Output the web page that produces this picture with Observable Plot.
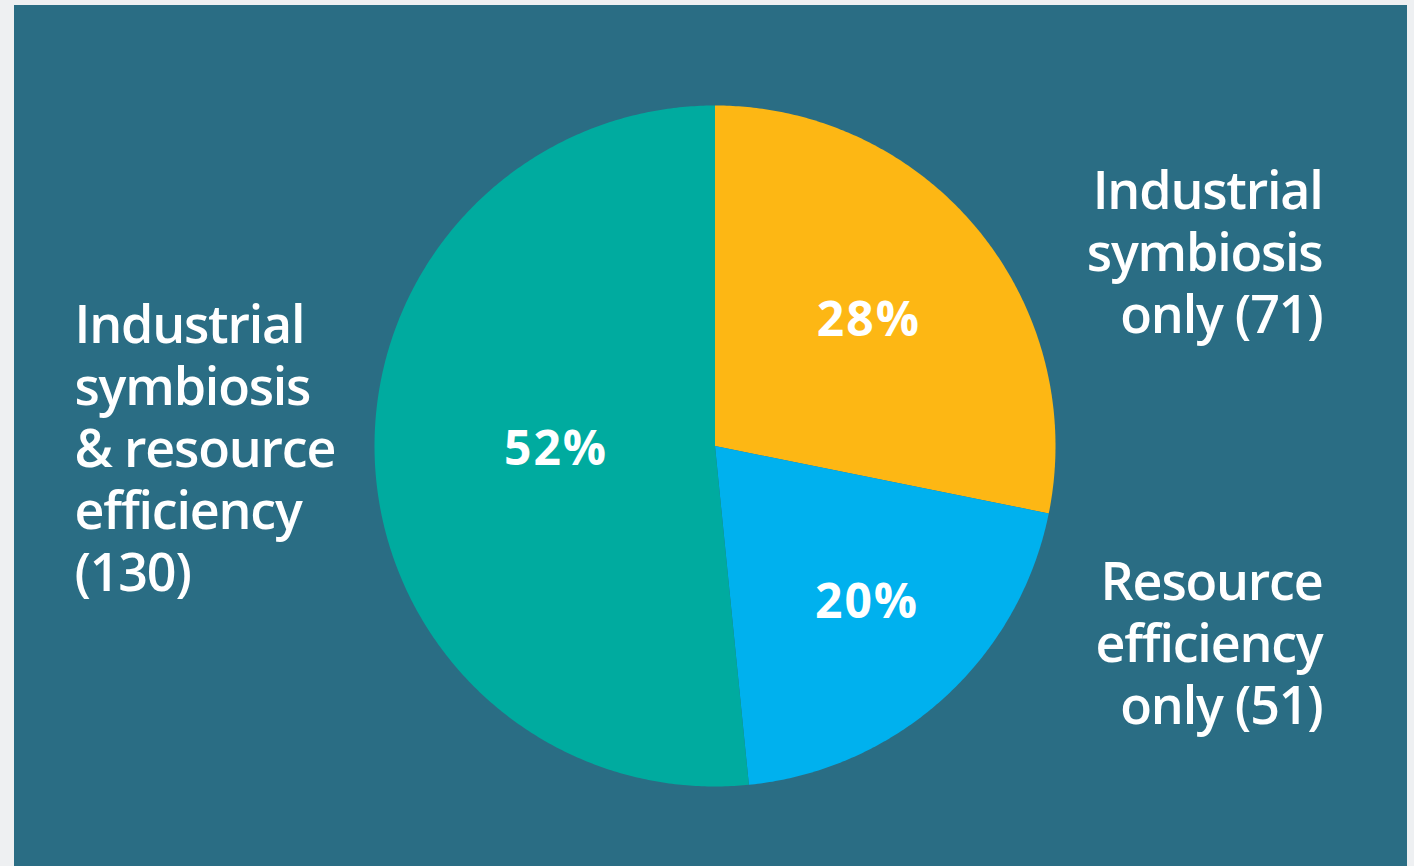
<!DOCTYPE html>
<html><head><meta charset="utf-8">
<script src="https://cdn.jsdelivr.net/npm/d3@7"></script>
<script src="https://cdn.jsdelivr.net/npm/@observablehq/plot@0.6"></script>
<style>
html,body{margin:0;padding:0;background:#eef0f2;overflow:hidden;}
#panel{position:absolute;left:14px;top:5px;width:1393px;height:861px;background:#2a6d84;}
#chart{position:absolute;left:0;top:0;}
</style></head><body>
<div id="panel"></div><div id="chart"></div>
<script>
// ---- data ----
const categories = ["Industrial symbiosis only", "Resource efficiency only", "Industrial symbiosis & resource efficiency"];
const counts = [71, 51, 130];
const percentLabels = ["28%", "20%", "52%"];
const sideLabels = ["Industrial\nsymbiosis\nonly (71)", "Resource\nefficiency\nonly (51)", "Industrial\nsymbiosis\n& resource\nefficiency\n(130)"];
const colors = ["#fdb714", "#00b1ee", "#00ab9f"];

// ---- layout (label placement) ----
const labelRadius = [0.58, 0.64, 0.47];
const labelAngleShift = [0, -0.03, 0.03];
const FONT = "'Open Sans', sans-serif";

const arcs = d3.pie().sort(null).value(d => d)(counts);

// slice outlines in data space (unit circle, angle from top, clockwise)
const slicePts = [];
arcs.forEach((a, i) => {
  const key = categories[i];
  slicePts.push({key, x: 0, y: 0});
  const n = Math.max(2, Math.ceil((a.endAngle - a.startAngle) / (Math.PI / 360)));
  for (let k = 0; k <= n; k++) {
    const t = a.startAngle + (a.endAngle - a.startAngle) * k / n;
    slicePts.push({key, x: Math.sin(t), y: Math.cos(t)});
  }
  slicePts.push({key, x: 0, y: 0});
});

const pctData = arcs.map((a, i) => {
  const m = (a.startAngle + a.endAngle) / 2 + labelAngleShift[i];
  return {label: percentLabels[i], x: labelRadius[i] * Math.sin(m), y: labelRadius[i] * Math.cos(m)};
});

const W = 1414, H = 866;
const side = {fill: "white", fontSize: 52, fontWeight: 600, lineHeight: 1.19, lineAnchor: "top"};
const chart = Plot.plot({
  width: W, height: H,
  marginLeft: 374, marginRight: W - 1055, marginTop: 105, marginBottom: H - 786,
  x: {domain: [-1, 1], axis: null},
  y: {domain: [-1, 1], axis: null},
  color: {domain: categories, range: colors},
  style: {background: "transparent", fontFamily: FONT, overflow: "visible"},
  marks: [
    Plot.line(slicePts, {x: "x", y: "y", z: "key", fill: "key", stroke: null, curve: "linear"}),
    Plot.text(pctData, {x: "x", y: "y", text: "label", fill: "white", fontSize: 48, fontWeight: 700, lineAnchor: "middle", textAnchor: "middle", dx: 1}),
    Plot.text([sideLabels[0]], {...side, text: d => d, frameAnchor: "top-right", textAnchor: "end", dx: 267, dy: 60}),
    Plot.text([sideLabels[1]], {...side, text: d => d, frameAnchor: "top-right", textAnchor: "end", dx: 267, dy: 451}),
    Plot.text([sideLabels[2]], {...side, text: d => d, frameAnchor: "top-left", textAnchor: "start", dx: -300, dy: 194})
  ]
});
const textGroups = chart.querySelectorAll('g[aria-label="text"]');
textGroups[0].setAttribute("letter-spacing", "2px");
for (let i = 1; i < textGroups.length; i++) textGroups[i].setAttribute("letter-spacing", "-1.2px");
document.getElementById("chart").appendChild(chart);
</script>
</body></html>
